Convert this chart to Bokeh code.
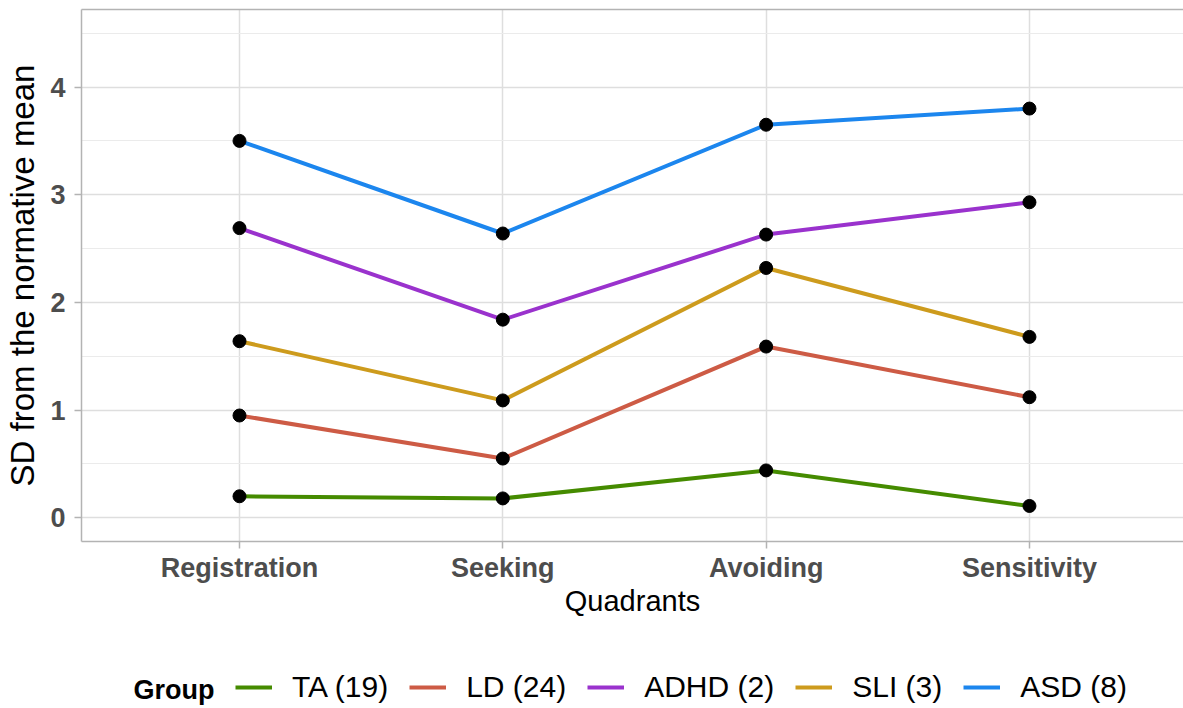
from bokeh.plotting import figure
from bokeh.layouts import column
from bokeh.models import (Range1d, FixedTicker, SingleIntervalTicker, LinearAxis,
                          Legend, LegendItem, Label)
from bokeh.embed import file_html
from bokeh.resources import INLINE

quadrants = ["Registration", "Seeking", "Avoiding", "Sensitivity"]
groups = ["TA (19)", "LD (24)", "ADHD (2)", "SLI (3)", "ASD (8)"]
ta = [0.20, 0.18, 0.44, 0.11]
ld = [0.95, 0.55, 1.59, 1.12]
adhd = [2.69, 1.84, 2.63, 2.93]
sli = [1.64, 1.09, 2.32, 1.68]
asd = [3.50, 2.64, 3.65, 3.80]
colors = ["#458B00", "#CD5B45", "#9A32CD", "#CD9B1D", "#1C86EE"]
series = [ta, ld, adhd, sli, asd]

x = list(range(1, len(quadrants) + 1))
FONT = "Liberation Sans"

p = figure(width=1183, height=640, output_backend="svg", toolbar_location=None,
           x_range=Range1d(0.4, 4.585), y_range=Range1d(-0.22, 4.72),
           min_border_left=81, min_border_right=0, min_border_top=9,
           min_border_bottom=99)
p.outline_line_color = None
p.background_fill_color = "white"

# grids
p.xgrid.ticker = FixedTicker(ticks=x)
p.xgrid.grid_line_color = "#DEDEDE"
p.xgrid.grid_line_width = 1.5
p.ygrid.ticker = SingleIntervalTicker(interval=1, num_minor_ticks=2)
p.ygrid.grid_line_color = "#DEDEDE"
p.ygrid.grid_line_width = 1.5
p.ygrid.minor_grid_line_color = "#EBEBEB"
p.ygrid.minor_grid_line_width = 1.2

# axes
for ax in (p.xaxis[0], p.yaxis[0]):
    ax.axis_line_color = "#B3B3B3"
    ax.axis_line_width = 1.5
    ax.major_tick_line_color = "#B3B3B3"
    ax.major_tick_line_width = 1.5
    ax.major_tick_out = 7
    ax.major_tick_in = 0
    ax.minor_tick_line_color = None
    ax.major_label_text_font = FONT
    ax.major_label_text_font_size = "27px"
    ax.major_label_text_font_style = "bold"
    ax.major_label_text_color = "#4D4D4D"
    ax.axis_label_text_font = FONT
    ax.axis_label_text_font_style = "normal"
    ax.axis_label_text_color = "black"

p.xaxis.ticker = FixedTicker(ticks=x)
p.xaxis.major_label_overrides = {i: q for i, q in zip(x, quadrants)}
p.xaxis.axis_label = "Quadrants"
p.xaxis.axis_label_text_font_size = "29px"
p.xaxis.major_label_standoff = 4
p.xaxis.axis_label_standoff = -1

p.yaxis.ticker = SingleIntervalTicker(interval=1, num_minor_ticks=2)
p.yaxis.axis_label = "SD from the normative mean"
p.yaxis.axis_label_text_font_size = "33px"
p.yaxis.major_label_standoff = 9
p.yaxis.axis_label_standoff = 6

top = LinearAxis(ticker=FixedTicker(ticks=[]), axis_line_color="#B3B3B3",
                 axis_line_width=1.5, major_tick_out=0, major_tick_in=0,
                 minor_tick_out=0, minor_tick_in=0, major_label_standoff=0)
p.add_layout(top, "above")

# data
for vals, col in zip(series, colors):
    p.line(x, vals, line_color=col, line_width=4)
for vals in series:
    p.scatter(x, vals, size=13, fill_color="black", line_color="black")

# legend strip (its frame is aligned with the main frame by the column layout)
lg = figure(width=1183, height=68, output_backend="svg", toolbar_location=None,
            x_axis_type=None, y_axis_type=None, min_border=0,
            x_range=Range1d(100, 101), y_range=Range1d(100, 101))
lg.outline_line_color = None
lg.grid.visible = False
items = []
for g, vals, col in zip(groups, series, colors):
    r = lg.line(x, vals, line_color=col, line_width=4)
    items.append(LegendItem(label=g, renderers=[r]))

legend = Legend(items=items, orientation="horizontal", location=(154, 4),
                glyph_width=37, glyph_height=20, label_standoff=20, spacing=21,
                padding=0, margin=0, border_line_color=None, background_fill_alpha=0,
                label_text_font=FONT, label_text_font_size="30px", label_text_color="black")
lg.add_layout(legend)
lg.add_layout(Label(x=52, y=19, x_units="screen", y_units="screen", text="Group",
                    text_font=FONT, text_font_size="27px", text_font_style="bold",
                    text_color="black", text_baseline="alphabetic"))

layout = column(p, lg, spacing=0)
open("out.html", "w").write(file_html(layout, INLINE))
